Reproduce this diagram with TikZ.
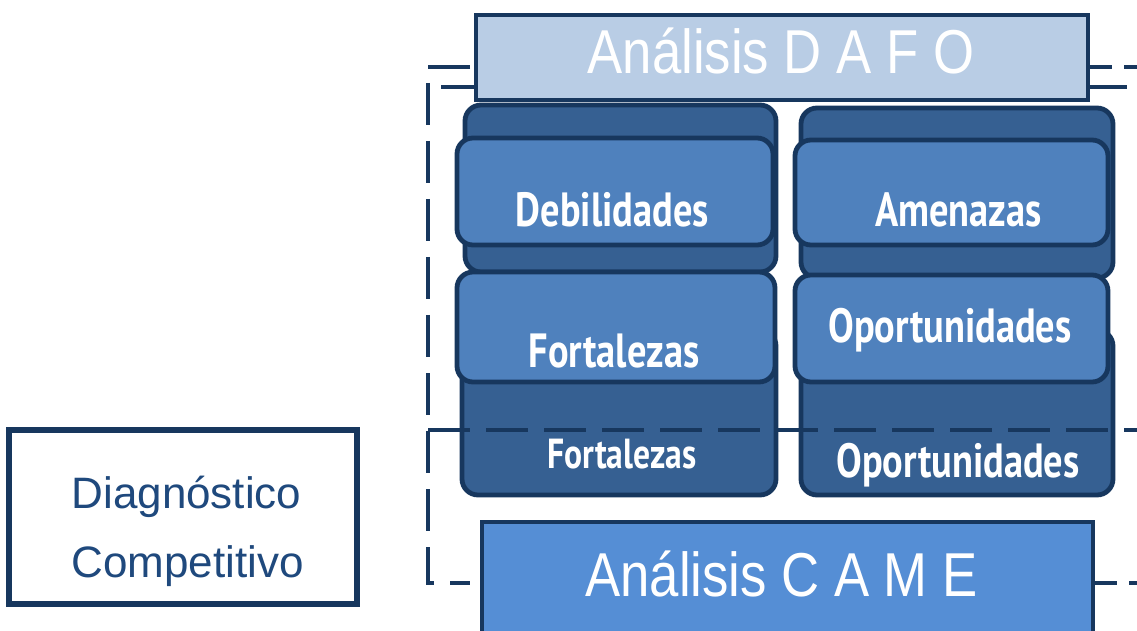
\documentclass[tikz,border=0pt]{standalone}
\usepackage{fontspec}
\setmainfont{Liberation Sans}
\newfontfamily\boxfont{PT Sans}[FakeStretch=0.8]
\newfontfamily\titlefont{Liberation Sans}[FakeStretch=0.85]
\definecolor{frame}{HTML}{17375E}
\definecolor{backblue}{HTML}{366092}
\definecolor{frontblue}{HTML}{4F81BD}
\definecolor{dafofill}{HTML}{B9CDE5}
\definecolor{camefill}{HTML}{558ED5}
\definecolor{diagtext}{HTML}{1F497D}
\tikzset{
  frameline/.style={draw=frame, line width=2pt, dash pattern=on 21pt off 8pt},
  back/.style={draw=frame, line width=2.4pt, fill=backblue, rounded corners=8pt, inner sep=0pt},
  front/.style={draw=frame, line width=2.4pt, fill=frontblue, rounded corners=8pt, inner sep=0pt},
  lbl/.style={text=white, inner sep=0pt, anchor=base, font=\boxfont\bfseries\fontsize{24}{24}\selectfont},
  smalllbl/.style={lbl, font=\boxfont\bfseries\fontsize{21}{21}\selectfont},
  title/.style={text=white, inner sep=0pt, anchor=base, font=\titlefont\fontsize{31}{31}\selectfont}
}
\begin{document}
\begin{tikzpicture}[x=0.5pt,y=-0.5pt]
  \clip (0,0) rectangle (1137,631);
  % dashed frame behind the boxes
  \draw[frameline] (470,67) -- (428,67) -- (428,583) -- (470,583);
  \draw[frameline, dash pattern=on 24pt off 5pt] (441,87) -- (1137,87);
  \draw[frameline, dash pattern=on 11pt off 6pt] (1090,67) -- (1137,67);
  \draw[frameline, dash pattern=on 11pt off 6pt] (1095,583) -- (1137,583);

  % left column
  \node[back, minimum width=155.5pt, minimum height=83.5pt] (debback) at (620.5,188.5) {};
  \node[front, minimum width=158pt, minimum height=53.5pt] (deb) at (615,191.5) {};
  \node[back, minimum width=157pt, minimum height=82.5pt] (forback) at (619,412.5) {};
  \node[front, minimum width=159pt, minimum height=55pt] (for) at (616,327) {};
  % right column
  \node[back, minimum width=156pt, minimum height=85pt] (amenback) at (957,193) {};
  \node[front, minimum width=156.5pt, minimum height=52.5pt] (amen) at (951.5,192.5) {};
  \node[back, minimum width=156pt, minimum height=82.5pt] (oporback) at (957,412.5) {};
  \node[front, minimum width=156.5pt, minimum height=53.5pt] (opor) at (951.5,328.5) {};

  % labels
  \node[lbl] (debtxt) at (612.5,227) {Debilidades};
  \node[lbl] (amentxt) at (958.5,227) {Amenazas};
  \node[lbl] (fortxt) at (614,367) {Fortalezas};
  \node[lbl] (oportxt) at (950,343) {Oportunidades};
  \node[smalllbl] (forbacktxt) at (622,468) {Fortalezas};
  \node[lbl] (oporbacktxt) at (958,477) {Oportunidades};

  % dashed divider over the back boxes
  \draw[frameline] (428,430) -- (1137,430);

  % DAFO and CAME bars
  \node[draw=frame, line width=2.4pt, fill=dafofill, minimum width=306pt, minimum height=42.5pt] (dafo) at (782,57.5) {};
  \node[title] (dafotxt) at (781,74) {Análisis D A F O};
  \node[draw=frame, line width=2.4pt, fill=camefill, minimum width=305.5pt, minimum height=63pt] (came) at (787.5,585) {};
  \node[title] (cametxt) at (781.5,596) {Análisis C A M E};

  % left box
  \node[draw=frame, line width=2.6pt, fill=white, minimum width=174pt, minimum height=87pt] (diag) at (183,517) {};
  \node[text=diagtext, inner sep=0pt, anchor=base, font=\fontsize{22}{22}\selectfont] (diag1) at (186.5,508) {Diagnóstico};
  \node[text=diagtext, inner sep=0pt, anchor=base, font=\fontsize{22}{22}\selectfont] (diag2) at (187.5,577) {Competitivo};
\end{tikzpicture}
\end{document}
